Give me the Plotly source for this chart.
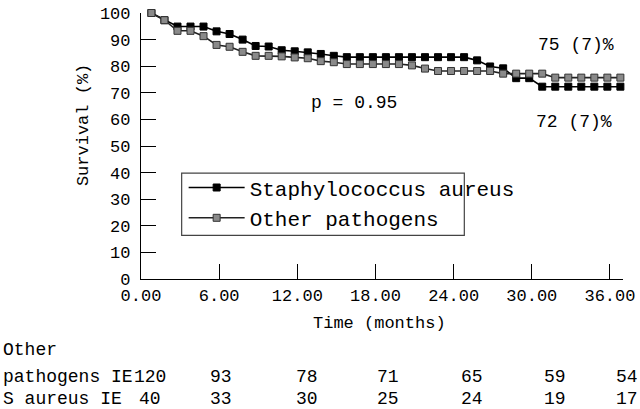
import plotly.graph_objects as go

# survival curves (months, % surviving)
months = [0.8, 1.8, 2.8, 3.8, 4.8, 5.8, 6.8, 7.8, 8.8, 9.8, 10.8, 11.8, 12.8,
          13.8, 14.8, 15.8, 16.8, 17.8, 18.8, 19.8, 20.8, 21.8, 22.8, 23.8,
          24.8, 25.8, 26.8, 27.8, 28.8, 29.8, 30.8, 31.8, 32.8, 33.8, 34.8,
          35.8, 36.8]
staph = [100, 97.3, 94.9, 94.9, 94.9, 93.1, 92.1, 90.0, 87.6, 87.4, 86.0, 85.6,
         85.2, 84.6, 83.9, 83.4, 83.4, 83.4, 83.4, 83.4, 83.4, 83.4, 83.4, 83.4,
         83.4, 82.2, 79.9, 79.2, 75.5, 75.5, 72.3, 72.3, 72.3, 72.3, 72.3, 72.3,
         72.3]
other = [100, 97.3, 93.3, 93.3, 91.3, 88.0, 87.3, 85.4, 83.9, 83.9, 83.7, 83.3,
         83.0, 81.9, 81.5, 80.8, 80.8, 80.8, 80.8, 80.8, 80.3, 79.1, 78.2, 78.2,
         78.2, 78.2, 78.2, 77.2, 77.2, 77.2, 77.2, 75.7, 75.7, 75.7, 75.7, 75.7,
         75.7]

xticks = [0, 6, 12, 18, 24, 30, 36]
yticks = [0, 10, 20, 30, 40, 50, 60, 70, 80, 90, 100]

# numbers at risk
risk_other = [120, 93, 78, 71, 65, 59, 54]
risk_staph = [40, 33, 30, 25, 24, 19, 17]

FONT = "Liberation Mono"
W, H = 640, 409
L, R, T, B = 141, 13, 5, 130

# pixel -> paper helpers for the text placed around the plot
def px(x):
    return (x - L) / (W - L - R)

def py(y):
    return (H - B - y) / (H - T - B)

def text(s, x, y, size=17, xanchor="center", angle=0):
    fig.add_annotation(text=s, x=px(x), y=py(y), xref="paper", yref="paper",
                       xanchor=xanchor, yanchor="middle", textangle=angle,
                       showarrow=False, font=dict(family=FONT, size=size, color="black"))

fig = go.Figure()
fig.add_trace(go.Scatter(x=months, y=staph, name="Staphylococcus aureus",
                         mode="lines+markers", cliponaxis=False,
                         line=dict(color="black", width=1.6),
                         marker=dict(symbol="square", size=7, color="black",
                                     line=dict(color="black", width=1))))
fig.add_trace(go.Scatter(x=months, y=other, name="Other pathogens",
                         mode="lines+markers", cliponaxis=False,
                         line=dict(color="#222222", width=1.6),
                         marker=dict(symbol="square", size=7, color="#8a8a8a",
                                     line=dict(color="#333333", width=1))))

# in-plot notes
text("p = 0.95", 356, 98, size=18)
text("75 (7)%", 580, 38, size=18)
text("72 (7)%", 578, 117, size=18)

# axis titles
text("Time (months)", 381, 325)
text("Survival (%)", 83, 120, angle=-90)

# at-risk table
risk_cols = [150, 222, 308, 390, 475, 558, 631]
text("Other", 0, 352, size=18, xanchor="left")
text("pathogens IE", 0, 380, size=18, xanchor="left")
text("S aureus IE", 0, 403, size=18, xanchor="left")
for cx, a, b in zip(risk_cols, risk_other, risk_staph):
    text(str(a), cx, 380, size=18)
    text(str(b), cx, 403, size=18)

# legend frame (the long label runs past it in the original)
fig.add_shape(type="rect", xref="paper", yref="paper",
              x0=px(182), x1=px(467), y0=py(234), y1=py(170),
              line=dict(color="#444444", width=1.2), fillcolor="rgba(0,0,0,0)")

fig.update_layout(
    width=W, height=H,
    margin=dict(l=L, r=R, t=T, b=B),
    paper_bgcolor="white", plot_bgcolor="white",
    font=dict(family=FONT, size=17, color="black"),
    showlegend=True,
    legend=dict(x=px(184), y=py(164), xanchor="left", yanchor="top",
                bgcolor="rgba(0,0,0,0)", borderwidth=0, itemwidth=56,
                font=dict(family=FONT, size=21, color="black"),
                tracegroupgap=0),
    xaxis=dict(range=[0, 37], tickvals=xticks, tickformat=".2f",
               ticks="inside", ticklen=15, tickcolor="black",
               showline=True, linecolor="black", linewidth=1.2,
               showgrid=False, zeroline=False, ticklabeloverflow="allow",
               tickfont=dict(family=FONT, size=17, color="black")),
    yaxis=dict(range=[0, 100], tickvals=yticks,
               ticks="inside", ticklen=15, tickcolor="black",
               showline=True, linecolor="black", linewidth=1.2,
               showgrid=False, zeroline=False, ticklabelstandoff=6,
               ticklabeloverflow="allow",
               tickfont=dict(family=FONT, size=17, color="black")),
)

# the page body has an 8px default margin; drop it so the figure sits at 0,0
fig.write_html("out.html", config={"displayModeBar": False},
               post_script="document.body.style.margin='0px';")
